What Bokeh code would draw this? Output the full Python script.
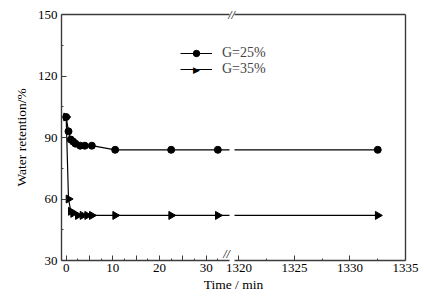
import math
from bokeh.plotting import figure
from bokeh.models import Range1d, FixedTicker, LinearAxis, Legend, LegendItem, Label, Row
from bokeh.embed import file_html
from bokeh.resources import INLINE

# ---- data ----
time_25 = [0, 0.5, 1, 1.5, 2, 3, 4, 5.5, 10.5, 22.5, 32.5, 1332.5]
ret_25 = [100, 93, 89, 88, 87, 86, 86, 86, 84, 84, 84, 84]
time_35 = [0, 0.5, 1, 1.5, 2.5, 3.5, 4.5, 5.5, 10.5, 22.5, 32.5, 1332.5]
ret_35 = [100, 60, 54, 53, 52, 52, 52, 52, 52, 52, 52, 52]

label_25 = "G=25%"
label_35 = "G=35%"
y_ticks = [30, 60, 90, 120, 150]
y_minor = [45, 75, 105, 135]
left_ticks = [0, 5, 10, 15, 20, 25, 30]
left_minor = [2.5, 7.5, 12.5, 17.5, 22.5, 27.5, 32.5]
left_hidden = [5, 15, 25]
right_ticks = [1320, 1325, 1330, 1335]
right_minor = [1322.5, 1327.5, 1332.5]

FONT = "Liberation Serif"
AX = "#3c3c3c"
W, H = 424, 305
BREAK_TOP_PX = 231     # pixel positions of the axis-break marks (layout overlay)
BREAK_BOTTOM_PX = 226


def make_fig(xr, yr, bl, br, bt=14, bb=45):
    p = figure(width=W, height=H, x_range=xr, y_range=yr,
               min_border_left=bl, min_border_right=br,
               min_border_top=bt, min_border_bottom=bb,
               x_axis_location=None, y_axis_location=None,
               output_backend="svg", toolbar_location=None)
    p.grid.visible = False
    p.outline_line_color = None
    return p


def style_axis(ax, size="13px"):
    ax.axis_line_color = AX
    ax.axis_line_width = 1.4
    ax.major_tick_line_color = AX
    ax.minor_tick_line_color = AX
    ax.major_tick_in = 5
    ax.major_tick_out = 0
    ax.minor_tick_in = 2
    ax.minor_tick_out = 0
    ax.major_label_text_font = FONT
    ax.major_label_text_font_size = size
    ax.major_label_text_color = "black"
    ax.major_label_standoff = 4
    ax.axis_label_text_font = FONT
    ax.axis_label_text_font_size = "13.5px"
    ax.axis_label_text_font_style = "normal"
    ax.axis_label_text_color = "black"


def border_axis():
    ax = LinearAxis(ticker=FixedTicker(ticks=[]))
    style_axis(ax)
    ax.major_tick_in = 0
    ax.minor_tick_in = 0
    ax.major_label_standoff = 0
    return ax


def break_axis(pos, label=None, label_standoff=0, show_mark=True):
    ax = LinearAxis(ticker=FixedTicker(ticks=[pos]),
                    major_label_overrides={pos: "//"})
    style_axis(ax, size="12px")
    ax.axis_line_color = None
    ax.major_tick_line_color = None
    ax.major_tick_in = 0
    ax.minor_tick_in = 0
    ax.major_label_text_font_style = "italic"
    ax.major_label_standoff = -7
    if not show_mark:
        ax.major_label_text_alpha = 0
    if label:
        ax.axis_label = label
        ax.axis_label_standoff = label_standoff
    return ax


def draw_series(p, visible=True):
    l25 = p.line(time_25, ret_25, line_color="black", line_width=1.2, visible=visible)
    s25 = p.scatter(time_25, ret_25, marker="circle", size=7,
                    fill_color="black", line_color="black", visible=visible)
    l35 = p.line(time_35, ret_35, line_color="black", line_width=1.2, visible=visible)
    s35 = p.scatter(time_35, ret_35, marker="triangle", size=8, angle=-math.pi / 2,
                    fill_color="black", line_color="black", visible=visible)
    return l25, s25, l35, s35


# ---- left part (0 - 35 min) ----
pa = make_fig(Range1d(-1, 35), Range1d(30, 150), 61, W - 229)
draw_series(pa)

xa = LinearAxis(ticker=FixedTicker(ticks=left_ticks, minor_ticks=left_minor),
                major_label_overrides={t: "" for t in left_hidden})
style_axis(xa)
xa.major_label_standoff = 3
pa.add_layout(xa, "below")

ya = LinearAxis(ticker=FixedTicker(ticks=y_ticks, minor_ticks=y_minor),
                axis_label="Water retention/%")
style_axis(ya)
ya.axis_label_standoff = 6
pa.add_layout(ya, "left")
pa.add_layout(border_axis(), "above")

# ---- right part (1320 - 1335 min), laid over the left one ----
pb = make_fig(Range1d(1319.6, 1335), Range1d(30, 150), 234, 19)
pb.background_fill_color = None
pb.border_fill_color = None
draw_series(pb)

xb = LinearAxis(ticker=FixedTicker(ticks=right_ticks, minor_ticks=right_minor))
style_axis(xb)
xb.major_label_standoff = 3
pb.add_layout(xb, "below")
pb.add_layout(border_axis(), "above")
pb.add_layout(border_axis(), "right")
pb.styles = {"position": "absolute", "left": "0px", "top": "0px"}

# ---- overlay spanning both parts: legend, x title, axis-break marks ----
pc = make_fig(Range1d(61, 405), Range1d(30, 150), 61, 19)
pc.background_fill_color = None
pc.border_fill_color = None
c25, cs25, c35, cs35 = draw_series(pc, visible=False)

legend = Legend(items=[LegendItem(label=label_25, renderers=[c25, cs25]),
                       LegendItem(label=label_35, renderers=[c35])],
                location=(119, 183), orientation="vertical",
                glyph_width=32, glyph_height=16, label_height=16,
                spacing=0, padding=0, margin=0, label_standoff=10,
                border_line_color=None, background_fill_alpha=0,
                label_text_font=FONT, label_text_font_size="14px")
pc.add_layout(legend)
pc.add_layout(Label(x=135, y=191, x_units="screen", y_units="screen",
                    text="\u25B6", text_align="center", text_baseline="middle",
                    text_font="DejaVu Sans", text_font_size="9px", text_color="black"))

# bottom break mark, sitting just on the bottom axis line
pc.add_layout(Label(x=BREAK_BOTTOM_PX - 61, y=0, x_units="screen", y_units="screen",
                    text="//", text_align="center", text_baseline="bottom",
                    text_font=FONT, text_font_size="12px", text_font_style="italic",
                    text_color="black"))

pc.add_layout(break_axis(BREAK_BOTTOM_PX, label="Time / min", label_standoff=16,
                         show_mark=False), "below")
pc.add_layout(break_axis(BREAK_TOP_PX), "above")
pc.styles = {"position": "absolute", "left": "0px", "top": "0px"}

layout = Row(children=[pa, pb, pc], styles={"position": "relative"})

open("out.html", "w").write(file_html(layout, INLINE))
